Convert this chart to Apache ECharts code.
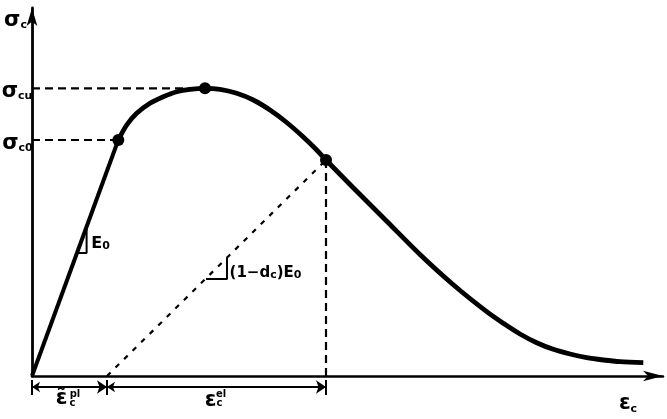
<!DOCTYPE html>
<html>
<head>
<meta charset="utf-8">
<script src="https://cdn.jsdelivr.net/npm/echarts@6/dist/echarts.min.js"></script>
<style>
  html, body { margin: 0; padding: 0; background: #fff; }
  #chart { width: 667px; height: 419px; }
</style>
</head>
<body>
<div id="chart"></div>
<script>
// strain (x) / stress (y) in arbitrary units
const elasticLine = [[0, 0], [0.863, 2.36]];
const curveX = [0.863, 0.947, 1.047, 1.18, 1.313, 1.447, 1.58, 1.73, 1.88, 2.047, 2.213, 2.38, 2.547, 2.713, 2.847, 2.94,
    3.21, 3.55, 3.88, 4.21, 4.547, 4.713, 4.88, 5.047, 5.213, 5.38, 5.547, 5.713, 5.88, 6.113];
const curveY = [2.36, 2.51, 2.627, 2.727, 2.793, 2.843, 2.867, 2.877, 2.867, 2.827, 2.76, 2.66, 2.535, 2.39, 2.26, 2.16,
    1.885, 1.545, 1.215, 0.915, 0.643, 0.527, 0.42, 0.333, 0.267, 0.22, 0.183, 0.16, 0.143, 0.133];
const keyPoints = [[0.863, 2.36], [1.73, 2.877], [2.94, 2.16]];
const sigmaC0 = 2.36;
const sigmaCu = 2.877;
const plStrain = 0.75;   // plastic strain where unloading line hits axis
const unloadStrain = 2.94;
const dimY = -0.11;

const curveData = curveX.map((x, i) => [x, curveY[i]]);

const dashed = (data, dash) => ({
    type: 'line',
    data: data,
    symbol: 'none',
    clip: false,
    silent: true,
    lineStyle: { color: '#000', width: 2.2, type: dash }
});

const solid = (data, w) => ({
    type: 'line',
    data: data,
    symbol: 'none',
    clip: false,
    silent: true,
    lineStyle: { color: '#000', width: w }
});

const font = 'DejaVu Sans';
const rich = {
    m: { fontSize: 21, fontWeight: 'bold', fontFamily: font, color: '#000', verticalAlign: 'bottom', lineHeight: 22 },
    s: { fontSize: 11, fontWeight: 'bold', fontFamily: font, color: '#000', verticalAlign: 'bottom', lineHeight: 15 },
    t: { fontSize: 15, fontWeight: 'bold', fontFamily: font, color: '#000', verticalAlign: 'bottom', lineHeight: 19 },
    e: { fontSize: 16, fontWeight: 'bold', fontFamily: font, color: '#000', verticalAlign: 'bottom', lineHeight: 19 },
    u: { fontSize: 10, fontWeight: 'bold', fontFamily: font, color: '#000' }
};

const textItem = (x, y, fmt) => ({ value: [x, y], label: { formatter: fmt } });

const labels = [
    textItem(-0.165, 3.56, '{m|σ}{s|c}'),
    textItem(-0.15, 2.85, '{m|σ}{s|cu}'),
    textItem(-0.145, 2.33, '{m|σ}{s|c0}'),
    textItem(0.685, 1.34, '{e|E}{s|0}'),
    textItem(2.335, 1.05, '{t|(1−d}{s|c}{t|)E}{s|0}'),
    textItem(0.295, -0.22, '{m|ε̃}'),
    textItem(0.43, -0.18, '{u|pl}'),
    textItem(0.405, -0.27, '{u|c}'),
    textItem(1.785, -0.24, '{m|ε}'),
    textItem(1.89, -0.18, '{u|el}'),
    textItem(1.875, -0.275, '{u|c}'),
    textItem(5.96, -0.275, '{m|ε}{s|c}')
];

const chart = echarts.init(document.getElementById('chart'), null, { renderer: 'canvas' });
const option = {
    backgroundColor: '#fff',
    animation: false,
    grid: { left: 32, right: 4, top: 8, bottom: 43, containLabel: false },
    xAxis: {
        type: 'value', min: 0, max: 6.31,
        axisLine: { show: true, lineStyle: { color: '#000', width: 2.5 }, symbol: ['none', 'arrow'], symbolSize: [8, 20], symbolOffset: [0, 0] },
        axisTick: { show: false }, axisLabel: { show: false }, splitLine: { show: false }
    },
    yAxis: {
        type: 'value', min: 0, max: 3.68,
        axisLine: { show: true, lineStyle: { color: '#000', width: 2.8 }, symbol: ['none', 'arrow'], symbolSize: [8, 18], symbolOffset: [0, 0] },
        axisTick: { show: false }, axisLabel: { show: false }, splitLine: { show: false }
    },
    series: [
        dashed([[0, sigmaCu], [keyPoints[1][0], sigmaCu]], [8, 5]),
        dashed([[0, sigmaC0], [keyPoints[0][0], sigmaC0]], [8, 5]),
        dashed([[unloadStrain, 0], keyPoints[2]], [8, 5]),
        dashed([[plStrain, 0], keyPoints[2]], [5, 7]),
        solid(elasticLine, 4),
        {
            type: 'line', data: curveData, symbol: 'none', smooth: 0.3, clip: false, silent: true,
            lineStyle: { color: '#000', width: 4.8 }
        },
        {
            type: 'scatter', data: keyPoints, symbol: 'circle', symbolSize: 12, clip: false,
            itemStyle: { color: '#000', opacity: 1 }
        },
        // slope triangles
        solid([[0.454, 1.23], [0.546, 1.23], [0.546, 1.48]], 2),
        solid([[1.74, 0.97], [1.95, 0.97], [1.95, 1.18]], 2),
        // dimension ticks
        solid([[0, -0.04], [0, -0.19]], 2),
        solid([[plStrain, -0.04], [plStrain, -0.19]], 2),
        solid([[unloadStrain, -0.04], [unloadStrain, -0.19]], 2),
        {
            type: 'lines', coordinateSystem: 'cartesian2d', clip: false, silent: true,
            symbol: ['arrow', 'arrow'], symbolSize: [8, 10],
            lineStyle: { color: '#000', width: 2, opacity: 1 },
            data: [
                { coords: [[0, dimY], [plStrain, dimY]] },
                { coords: [[plStrain, dimY], [unloadStrain, dimY]] }
            ]
        },
        {
            type: 'scatter', data: labels, symbolSize: 0, clip: false, silent: true,
            itemStyle: { opacity: 1 },
            label: { show: true, position: 'inside', rich: rich, color: '#000' }
        }
    ]
};
chart.setOption(option);
</script>
</body>
</html>
